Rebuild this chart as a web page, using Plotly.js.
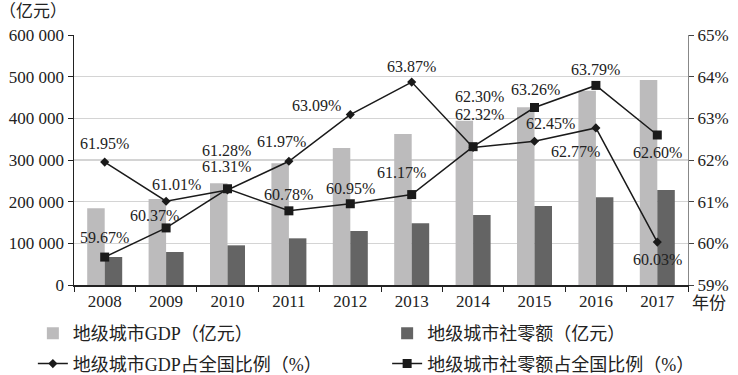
<!DOCTYPE html>
<html><head><meta charset="utf-8">
<script src="https://cdn.plot.ly/plotly-3.0.1.min.js"></script>
<style>html,body{margin:0;padding:0;background:#fff}#c{width:738px;height:375px}</style>
</head><body><div id="c"></div>
<script>
const years = [2008, 2009, 2010, 2011, 2012, 2013, 2014, 2015, 2016, 2017];
const yearLabels = ['2008','2009','2010','2011','2012','2013','2014','2015','2016','2017'];
const gdp = [184000, 206400, 244000, 292000, 328800, 362400, 394300, 426400, 466300, 492000];
const retail = [67200, 79200, 95200, 112000, 129600, 148000, 168000, 189600, 210500, 228000];
const gdpShare = [61.95, 61.01, 61.28, 61.97, 63.09, 63.87, 62.30, 62.45, 62.77, 60.03];
const retailShare = [59.67, 60.37, 61.31, 60.78, 60.95, 61.17, 62.32, 63.26, 63.79, 62.60];
const names = ['地级城市GDP（亿元）','地级城市社零额（亿元）','地级城市GDP占全国比例（%）','地级城市社零额占全国比例（%）'];

// label offsets in pixels (dx right, dy down)
const gdpOff = [[0,-19],[10,-17],[-1,-40],[-7,-20],[-34,-9],[0,-16],[6,-51],[16,-18],[-20,24],[0,17]];
const retOff = [[0,-20],[-12,-12],[-1,-22],[0,-16],[0,-15],[-10,-22],[6,-32],[1,-18],[0,-16],[0,17]];

const FONT = 'Liberation Serif, Times New Roman, Noto Sans CJK SC, serif';
const LINE = '#1a1a1a';

const traces = [
  {type:'bar', x:years, y:gdp, name:names[0], marker:{color:'#bcbbbc'}, legend:'legend', legendgroup:'a'},
  {type:'bar', x:years, y:retail, name:names[1], marker:{color:'#646464'}, legend:'legend2', legendgroup:'b'},
  {type:'scatter', mode:'lines+markers', x:years, y:gdpShare, yaxis:'y2', name:names[2], legend:'legend', legendgroup:'c',
   line:{color:LINE, width:1.5}, marker:{symbol:'diamond', size:7, color:LINE}},
  {type:'scatter', mode:'lines+markers', x:years, y:retailShare, yaxis:'y2', name:names[3], legend:'legend2', legendgroup:'d',
   line:{color:LINE, width:1.5}, marker:{symbol:'square', size:9, color:LINE}}
];

const annotations = [];
function addLabels(vals, offs){
  vals.forEach((v,i)=>{
    annotations.push({x:years[i], y:v, xref:'x', yref:'y2', text:v.toFixed(2)+'%', showarrow:false,
      xshift:offs[i][0], yshift:-offs[i][1], font:{family:FONT, size:16, color:'#222'}});
  });
}
addLabels(gdpShare, gdpOff);
addLabels(retailShare, retOff);
annotations.push({xref:'paper', yref:'paper', x:-0.125, y:1.092, xanchor:'left', yanchor:'middle',
  text:'（亿元）', showarrow:false, font:{family:FONT, size:17, color:'#222'}});
annotations.push({xref:'paper', yref:'paper', x:1.003, y:-0.072, xanchor:'left', yanchor:'middle',
  text:'年份', showarrow:false, font:{family:FONT, size:17, color:'#222'}});

const legFont = {family:FONT, size:18, color:'#222'};
const layout = {
  width:738, height:375,
  margin:{l:74, r:50, t:35, b:90, autoexpand:false},
  paper_bgcolor:'#fff', plot_bgcolor:'#fff',
  separators:'. ',
  font:{family:FONT, size:17, color:'#222'},
  barmode:'group', bargap:0.43, bargroupgap:0,
  showlegend:true,
  legend:{orientation:'v', x:-0.067, y:-0.12, xanchor:'left', yanchor:'top', tracegroupgap:4,
    font:legFont, traceorder:'grouped', bgcolor:'rgba(0,0,0,0)'},
  legend2:{orientation:'v', x:0.51, y:-0.12, xanchor:'left', yanchor:'top', tracegroupgap:4,
    font:legFont, traceorder:'grouped', bgcolor:'rgba(0,0,0,0)'},
  xaxis:{range:[2007.5, 2017.5], tickvals:years, ticktext:yearLabels, ticks:'',
    showline:true, linecolor:'#222', linewidth:1.5, showgrid:false, zeroline:false,
    minor:{ticks:'outside', tick0:2007.5, dtick:1, ticklen:5, tickcolor:'#222', showgrid:false},
    tickfont:{family:FONT, size:17, color:'#222'}},
  yaxis:{range:[0,600000], dtick:100000, tickformat:',d', showline:true, linecolor:'#222', linewidth:1.5,
    ticks:'outside', ticklen:5, tickcolor:'#222', gridcolor:'#d4d4d4', gridwidth:1.2, zeroline:false,
    tickfont:{family:FONT, size:17, color:'#222'}},
  yaxis2:{range:[59,65], dtick:1, ticksuffix:'%', overlaying:'y', side:'right', showline:true,
    linecolor:'#888', linewidth:1.2, ticks:'outside', ticklen:5, tickcolor:'#444', showgrid:false, zeroline:false,
    tickfont:{family:FONT, size:17, color:'#222'}},
  annotations:annotations
};
Plotly.newPlot('c', traces, layout, {displayModeBar:false, staticPlot:true});
</script></body></html>
